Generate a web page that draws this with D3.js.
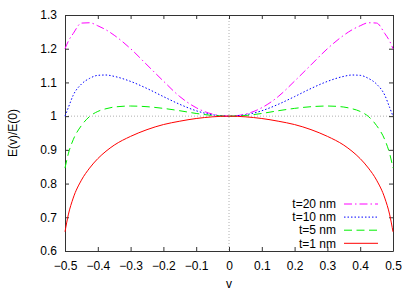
<!DOCTYPE html>
<html>
<head>
<meta charset="utf-8">
<script src="https://cdn.jsdelivr.net/npm/d3@7"></script>
<style>
  body { margin: 0; background: #fff; }
  text { font-family: "Liberation Sans", Arial, sans-serif; font-size: 12px; fill: #000; }
</style>
</head>
<body>
<div id="chart"></div>
<script>
// values
var vValues = [-0.5,-0.49,-0.475,-0.45,-0.425,-0.4,-0.375,-0.35,-0.3,-0.25,-0.2,-0.15,-0.1,-0.05,0,
               0.05,0.1,0.15,0.2,0.25,0.3,0.35,0.375,0.4,0.425,0.45,0.475,0.49,0.5];
var t20 = [1.2,1.222,1.245,1.276,1.277,1.268,1.256,1.24,1.2,1.152,1.104,1.058,1.025,1.006,1.0,
           1.006,1.025,1.058,1.104,1.152,1.2,1.24,1.256,1.268,1.277,1.276,1.245,1.222,1.2];
var t10 = [1.0,1.025,1.062,1.095,1.112,1.121,1.122,1.118,1.103,1.082,1.058,1.035,1.016,1.004,1.0,
           1.004,1.016,1.035,1.058,1.082,1.103,1.118,1.122,1.121,1.112,1.095,1.062,1.025,1.0];
var t5 = [0.846,0.888,0.93,0.972,0.999,1.014,1.022,1.027,1.03,1.028,1.023,1.016,1.008,1.002,1.0,
          1.002,1.008,1.016,1.023,1.028,1.03,1.027,1.022,1.014,0.999,0.972,0.93,0.888,0.846];
var t1 = [0.657,0.707,0.757,0.81,0.846,0.874,0.896,0.914,0.94,0.96,0.975,0.985,0.993,0.998,1.0,
          0.998,0.993,0.985,0.975,0.96,0.94,0.914,0.896,0.874,0.846,0.81,0.757,0.707,0.657];
var seriesNames = ["t=20 nm", "t=10 nm", "t=5 nm", "t=1 nm"];
var xTicks = [-0.5,-0.4,-0.3,-0.2,-0.1,0,0.1,0.2,0.3,0.4,0.5];
var yTicks = [0.6,0.7,0.8,0.9,1,1.1,1.2,1.3];

var styles = [
  {color: "#ff00ff", dash: "8,3,1.5,3"},
  {color: "#0000ff", dash: "1.5,2"},
  {color: "#00f000", dash: "8,4.5"},
  {color: "#ff0000", dash: null}
];
var allSeries = [t20, t10, t5, t1];

// set the dimensions and margins of the graph
var W = 415, H = 291;
var margin = {top: 15, right: 22, bottom: 40, left: 65};
var width = W - margin.left - margin.right,
    height = H - margin.top - margin.bottom;

var svg = d3.select("#chart").append("svg")
  .attr("width", W).attr("height", H)
  .append("g")
  .attr("transform", "translate(" + margin.left + "," + margin.top + ")");

var x = d3.scaleLinear().domain([-0.5, 0.5]).range([0, width]);
var y = d3.scaleLinear().domain([0.6, 1.3]).range([height, 0]);

// dotted lines at v=0 and E=1
svg.append("line")
  .attr("x1", x(0)).attr("x2", x(0)).attr("y1", 0).attr("y2", height)
  .attr("stroke", "#b0b0b0").attr("stroke-width", 1).attr("stroke-dasharray", "1,2");
svg.append("line")
  .attr("x1", 0).attr("x2", width).attr("y1", y(1)).attr("y2", y(1))
  .attr("stroke", "#b0b0b0").attr("stroke-width", 1).attr("stroke-dasharray", "1,2");

// axes, ticks pointing inward on all four sides
var fmt = function(d){ return d3.format("")(+d.toFixed(1)); };
var gBottom = svg.append("g").attr("transform", "translate(0," + height + ")")
  .call(d3.axisBottom(x).tickValues(xTicks).tickSizeInner(-4).tickSizeOuter(0).tickPadding(10).tickFormat(fmt));
var gTop = svg.append("g")
  .call(d3.axisTop(x).tickValues(xTicks).tickSizeInner(-4).tickSizeOuter(0).tickFormat(""));
var gLeft = svg.append("g")
  .call(d3.axisLeft(y).tickValues(yTicks).tickSizeInner(-4).tickSizeOuter(0).tickPadding(8).tickFormat(fmt));
var gRight = svg.append("g").attr("transform", "translate(" + width + ",0)")
  .call(d3.axisRight(y).tickValues(yTicks).tickSizeInner(-4).tickSizeOuter(0).tickFormat(""));

[gBottom, gTop, gLeft, gRight].forEach(function(g){
  g.select(".domain").attr("stroke", "#333");
  g.selectAll(".tick line").attr("stroke", "#333");
  g.selectAll("text").attr("font-size", 12).attr("font-family", "Liberation Sans, Arial, sans-serif").attr("fill", "#000");
});

// curves
var line = d3.line()
  .x(function(d){ return x(d[0]); })
  .y(function(d){ return y(d[1]); })
  .curve(d3.curveMonotoneX);

allSeries.forEach(function(vals, i){
  var pts = vValues.map(function(v, j){ return [v, vals[j]]; });
  svg.append("path")
    .datum(pts)
    .attr("fill", "none")
    .attr("stroke", styles[i].color)
    .attr("stroke-width", 1)
    .attr("stroke-dasharray", styles[i].dash)
    .attr("d", line);
});

// legend
var legend = svg.append("g").attr("transform", "translate(" + (336 - margin.left) + "," + (204 - margin.top) + ")");
seriesNames.forEach(function(name, i){
  var row = legend.append("g").attr("transform", "translate(0," + (i * 13.1) + ")");
  row.append("text").attr("x", 0).attr("y", 0).attr("dy", "0.35em")
    .attr("text-anchor", "end").text(name);
  row.append("line").attr("x1", 8).attr("x2", 42).attr("y1", 0).attr("y2", 0)
    .attr("stroke", styles[i].color).attr("stroke-width", 1)
    .attr("stroke-dasharray", styles[i].dash);
});

// axis labels
svg.append("text")
  .attr("x", width / 2).attr("y", height + 37)
  .attr("text-anchor", "middle").text("v");
svg.append("text")
  .attr("transform", "translate(" + (13 - margin.left) + "," + (height / 2) + ") rotate(-90)")
  .attr("text-anchor", "middle").attr("dy", "0.35em").text("E(v)/E(0)");
</script>
</body>
</html>
